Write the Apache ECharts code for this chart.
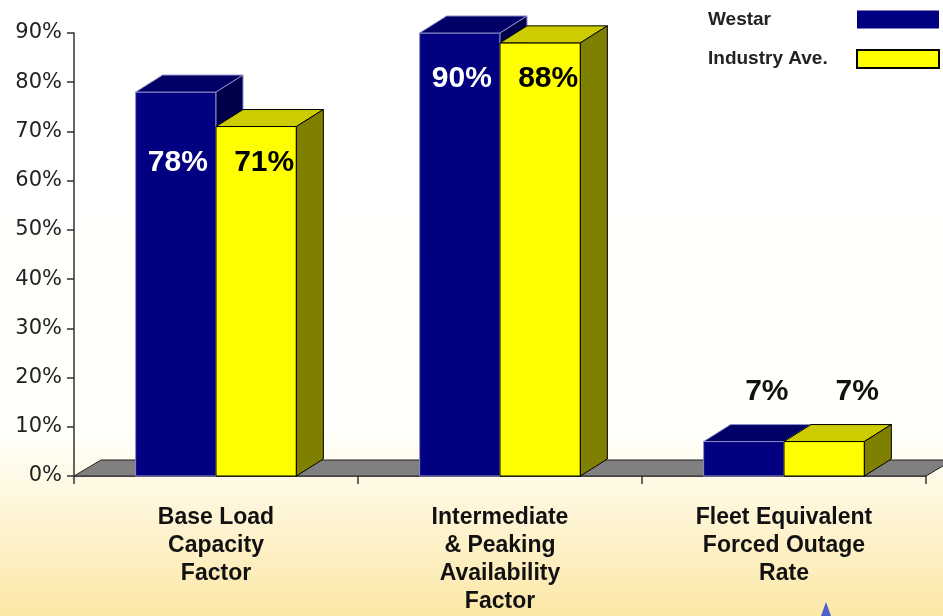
<!DOCTYPE html>
<html>
<head>
<meta charset="utf-8">
<script src="https://cdn.jsdelivr.net/npm/echarts@6/dist/echarts.min.js"></script>
<style>
  html, body { margin: 0; padding: 0; }
  #main { width: 943px; height: 616px; }
</style>
</head>
<body>
<div id="main"></div>
<script>
// chart data
const categories = [
    'Base Load\nCapacity\nFactor',
    'Intermediate\n& Peaking\nAvailability\nFactor',
    'Fleet Equivalent\nForced Outage\nRate'
];
const westar = [78, 90, 7];
const industry = [71, 88, 7];
const seriesNames = ['Westar', 'Industry Ave.'];

const DX = 27, DY = -17;

// faces: front, top, side
const palette = [
    { front: '#000080', top: '#000066', side: '#00004a', stroke: '#8c8cc8', label: '#ffffff' },
    { front: '#ffff00', top: '#cccc00', side: '#808000', stroke: '#000000', label: '#000000' }
];

function barRenderer(sIdx) {
    const c = palette[sIdx];
    return function (params, api) {
        const idx = api.value(0);
        const val = api.value(1);
        const base = api.coord([idx, 0]);
        const top = api.coord([idx, val]);
        const bw = api.size([1, 0])[0];
        const w = bw * 0.283;
        const x0 = sIdx === 0 ? base[0] - w : base[0];
        const x1 = x0 + w;
        const y0 = base[1], y1 = top[1];
        const cx = (x0 + x1) / 2;

        let lx, ly, lc;
        if (val >= 20) {
            // inside the bar, lined up across the pair
            const lo = Math.min(westar[idx], industry[idx]);
            ly = api.coord([idx, lo])[1] + 36;
            lx = cx + (sIdx ? 8 : 2);
            lc = c.label;
        } else {
            // short bars: above the top face
            ly = y1 - 50;
            lx = cx + (sIdx ? 33 : 23);
            lc = '#111';
        }

        return {
            type: 'group',
            children: [
                {
                    type: 'rect',
                    shape: { x: x0, y: y1, width: w, height: y0 - y1 },
                    style: { fill: c.front, stroke: c.stroke, lineWidth: 1 }
                },
                {
                    type: 'polygon',
                    shape: { points: [[x0, y1], [x1, y1], [x1 + DX, y1 + DY], [x0 + DX, y1 + DY]] },
                    style: { fill: c.top, stroke: c.stroke, lineWidth: 1 }
                },
                {
                    type: 'polygon',
                    shape: { points: [[x1, y1], [x1 + DX, y1 + DY], [x1 + DX, y0 + DY], [x1, y0]] },
                    style: { fill: c.side, stroke: c.stroke, lineWidth: 1 }
                },
                {
                    type: 'text',
                    z2: 10,
                    style: {
                        text: val + '%',
                        x: lx,
                        y: ly,
                        align: 'center',
                        verticalAlign: 'middle',
                        font: 'bold 30px "Liberation Sans", Arial, sans-serif',
                        fill: lc
                    }
                }
            ]
        };
    };
}

function floorRenderer(params, api) {
    const cs = params.coordSys;
    const yb = cs.y + cs.height;
    return {
        type: 'polygon',
        shape: {
            points: [[cs.x, yb], [cs.x + cs.width, yb], [cs.x + cs.width + DX, yb + DY + 1], [cs.x + DX, yb + DY + 1]]
        },
        style: { fill: '#808080', stroke: '#222222', lineWidth: 1 }
    };
}

const chart = echarts.init(document.getElementById('main'));

const option = {
    animation: false,
    backgroundColor: {
        type: 'linear', x: 0, y: 0, x2: 0, y2: 1,
        colorStops: [
            { offset: 0, color: '#ffffff' },
            { offset: 0.7, color: '#fffffb' },
            { offset: 0.8, color: '#fff8e0' },
            { offset: 1, color: '#fce7a6' }
        ]
    },
    grid: { left: 74, top: 33, width: 852, bottom: 140 },
    legend: {
        orient: 'vertical',
        right: 3,
        top: 10,
        padding: 0,
        align: 'right',
        icon: 'rect',
        itemWidth: 82,
        itemHeight: 18,
        itemGap: 20,
        data: seriesNames,
        formatter: function (n) { return '{t|' + n + '}'; },
        textStyle: {
            rich: {
                t: {
                    width: 144,
                    align: 'left',
                    fontSize: 19,
                    fontWeight: 'bold',
                    fontFamily: '"Liberation Sans", Arial, sans-serif',
                    color: '#222'
                }
            }
        }
    },
    xAxis: {
        type: 'category',
        data: categories,
        axisLine: { show: true, lineStyle: { color: '#333', width: 1.5 } },
        axisTick: { show: true, interval: 0, length: 8, lineStyle: { color: '#333', width: 1.5 } },
        axisLabel: {
            interval: 0,
            margin: 28,
            fontSize: 23,
            lineHeight: 28,
            fontWeight: 'bold',
            fontFamily: '"Liberation Sans", Arial, sans-serif',
            color: '#111'
        },
        splitLine: { show: false }
    },
    yAxis: {
        type: 'value',
        min: 0,
        max: 90,
        interval: 10,
        axisLine: { show: true, lineStyle: { color: '#333', width: 1.5 } },
        axisTick: { show: true, length: 7, lineStyle: { color: '#333', width: 1.5 } },
        axisLabel: {
            formatter: '{value}%',
            margin: 12,
            fontSize: 21,
            fontFamily: '"DejaVu Sans", sans-serif',
            color: '#222'
        },
        splitLine: { show: false }
    },
    series: [
        {
            name: 'floor',
            type: 'custom',
            z: 1,
            silent: true,
            renderItem: floorRenderer,
            data: [[0, 0]]
        },
        {
            name: seriesNames[0],
            type: 'custom',
            z: 2,
            renderItem: barRenderer(0),
            itemStyle: { color: '#000080' },
            encode: { x: 0, y: 1 },
            data: westar.map(function (v, i) { return [i, v]; })
        },
        {
            name: seriesNames[1],
            type: 'custom',
            z: 3,
            renderItem: barRenderer(1),
            itemStyle: { color: '#ffff00', borderColor: '#000', borderWidth: 1.5 },
            encode: { x: 0, y: 1 },
            data: industry.map(function (v, i) { return [i, v]; })
        }
    ],
    graphic: [
        {
            type: 'polygon',
            silent: true,
            shape: { points: [[826, 602], [831, 616], [821, 616]] },
            style: { fill: '#4a5fd0' }
        }
    ]
};

chart.setOption(option);
</script>
</body>
</html>
